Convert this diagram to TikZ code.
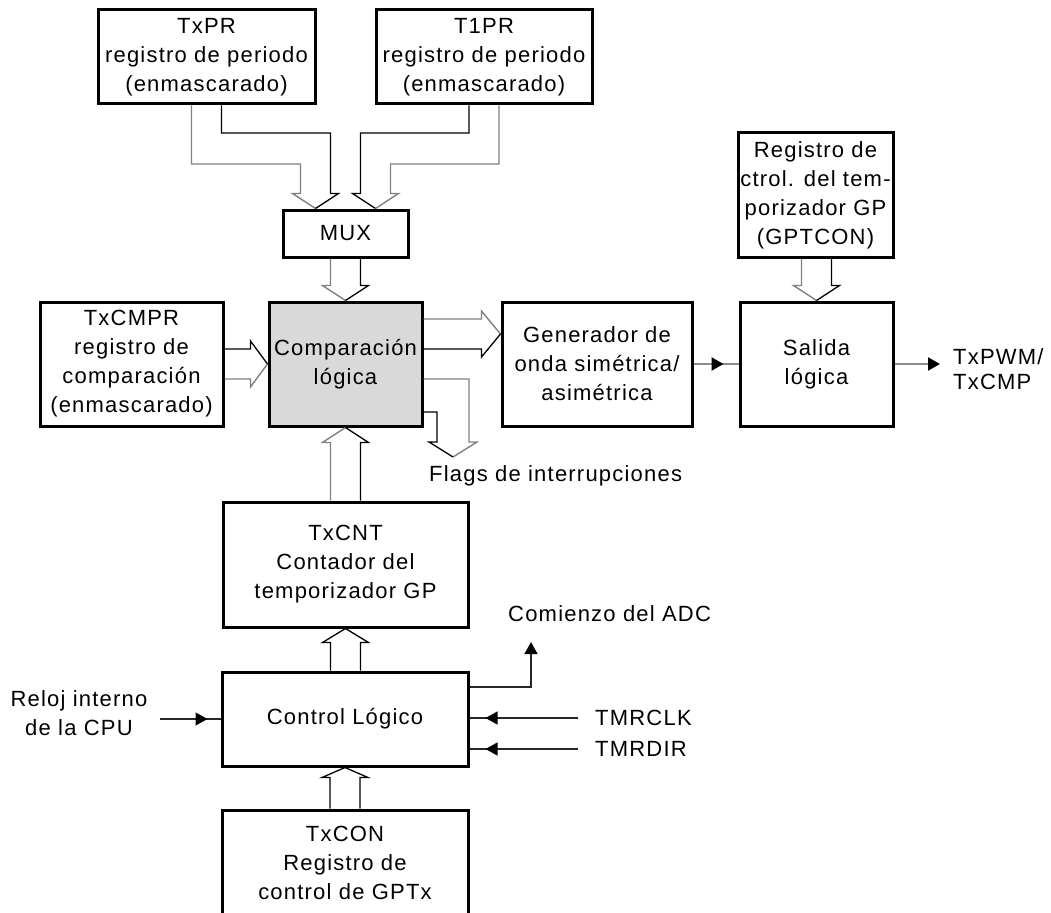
\documentclass[tikz,border=0pt]{standalone}
\usepackage{fontspec}
\setmainfont[LetterSpace=5.5]{Liberation Sans}
\usetikzlibrary{calc,arrows.meta}

% vertical bus: #1 source anchor, #2 tip, #3 offset of head base from tip, #4/#5 styles of left/right line
\newcommand{\busv}[5]{%
  \draw[#4] let \p1=(#1), \p2=(#2) in
    ({\x2-15pt},\y1) -- ({\x2-15pt},{\y2+(#3)}) -- ({\x2-23pt},{\y2+(#3)}) -- (\p2);
  \draw[#5] let \p1=(#1), \p2=(#2) in
    ({\x2+15pt},\y1) -- ({\x2+15pt},{\y2+(#3)}) -- ({\x2+23pt},{\y2+(#3)}) -- (\p2);}
% horizontal bus to the right: #1 source anchor, #2 tip, #3 head length, #4/#5 styles of upper/lower line
\newcommand{\bush}[5]{%
  \draw[#4] let \p1=(#1), \p2=(#2) in
    (\x1,{\y2+15pt}) -- ({\x2-#3},{\y2+15pt}) -- ({\x2-#3},{\y2+23pt}) -- (\p2);
  \draw[#5] let \p1=(#1), \p2=(#2) in
    (\x1,{\y2-15pt}) -- ({\x2-#3},{\y2-15pt}) -- ({\x2-#3},{\y2-23pt}) -- (\p2);}

\begin{document}
\begin{tikzpicture}[x=1pt,y=1pt,
  every node/.style={font=\fontsize{22}{29}\selectfont, text=black},
  blk/.style={draw=black, line width=3pt, inner sep=0pt, align=center},
  busg/.style={draw=black!50, line width=1.4pt, line join=miter},
  busk/.style={draw=black, line width=1.3pt, line join=miter},
  sig/.style={draw=black!85, line width=1.3pt},
  sigg/.style={draw=black!45, line width=2.2pt},
  tip/.style={-{Triangle[length=12pt,width=13pt,color=black]}},
  lbl/.style={anchor=west, inner sep=0pt, align=left}]

\fill[white] (0,0) rectangle (1051,-912);
\useasboundingbox (0,0) rectangle (1051,-912);

% registers and logic blocks
\node[blk, minimum width=217pt, minimum height=94pt] (txpr) at (206.5,-57)
  {TxPR\\registro de periodo\\(enmascarado)};
\node[blk, minimum width=216pt, minimum height=94pt] (t1pr) at (484,-57)
  {T1PR\\registro de periodo\\(enmascarado)};
\node[blk, minimum width=125pt, minimum height=47pt] (mux) at (345.5,-233.5) {MUX};
\node[blk, minimum width=183pt, minimum height=124pt] (txcmpr) at (131.5,-364)
  {TxCMPR\\registro de\\comparación\\(enmascarado)};
\node[blk, fill=black!15, minimum width=153pt, minimum height=124pt] (cmp) at (345.5,-364)
  {Comparación\\lógica};
\node[blk, minimum width=190pt, minimum height=124pt] (gen) at (597,-364)
  {Generador de\\onda simétrica/\\asimétrica};
\node[blk, minimum width=153pt, minimum height=124pt] (sal) at (816.5,-364)
  {Salida\\lógica};
\node[blk, minimum width=155pt, minimum height=124pt] (gpt) at (815.5,-195)
  {Registro de\\ctrol. del tem-\\porizador GP\\(GPTCON)};
\node[blk, minimum width=245pt, minimum height=125pt] (txcnt) at (345.5,-564.5)
  {TxCNT\\Contador del\\temporizador GP};
\node[blk, minimum width=246pt, minimum height=94pt] (ctl) at (345,-719)
  {Control Lógico};
\node[blk, minimum width=246pt, minimum height=105pt] (txcon) at (345,-862.5)
  {TxCON\\Registro de\\control de GPTx};

% free labels
\node[inner sep=0pt, align=center] (reloj) at (79,-713) {Reloj interno\\de la CPU};
\node[lbl] (tmrclk) at (595,-718) {TMRCLK};
\node[lbl] (tmrdir) at (595,-749) {TMRDIR};
\node[lbl] (adclbl) at (508,-614) {Comienzo del ADC};
\node[lbl] (flags) at (429,-476) {Flags de interrupciones};
\node[lbl, font=\fontsize{22}{25}\selectfont] (txpwm) at (953,-369) {TxPWM/\\TxCMP};

% connector end points
\coordinate (muxa) at ($(mux.north)+(-30,0)$);
\coordinate (muxb) at ($(mux.north)+(30,0)$);
\coordinate (flg) at (453,-457);
\coordinate (adc) at (531,-642);
\coordinate (rin) at (160,-719);
\coordinate (pwm) at (940,-364);

% period registers into the multiplexer
\draw[busg] let \p1=(txpr.south), \p2=(muxa) in
  ({\x1-15pt},\y1) -- ({\x1-15pt},-164pt) -- ({\x2-15pt},-164pt) -- ({\x2-15pt},{\y2+15pt})
  -- ({\x2-23pt},{\y2+15pt}) -- (\p2);
\draw[busk] let \p1=(txpr.south), \p2=(muxa) in
  ({\x1+15pt},\y1) -- ({\x1+15pt},-133pt) -- ({\x2+15pt},-133pt) -- ({\x2+15pt},{\y2+15pt})
  -- ({\x2+23pt},{\y2+15pt}) -- (\p2);
\draw[busk] let \p1=(t1pr.south), \p2=(muxb) in
  ({\x1-15pt},\y1) -- ({\x1-15pt},-133pt) -- ({\x2-15pt},-133pt) -- ({\x2-15pt},{\y2+15pt})
  -- ({\x2-23pt},{\y2+15pt}) -- (\p2);
\draw[busg] let \p1=(t1pr.south), \p2=(muxb) in
  ({\x1+15pt},\y1) -- ({\x1+15pt},-164pt) -- ({\x2+15pt},-164pt) -- ({\x2+15pt},{\y2+15pt})
  -- ({\x2+23pt},{\y2+15pt}) -- (\p2);

% data buses between blocks
\busv{mux.south}{cmp.north}{15pt}{busg}{busk}
\busv{gpt.south}{sal.north}{15pt}{busg}{busk}
\busv{txcnt.north}{cmp.south}{-15pt}{busg}{busk}
\busv{ctl.north}{txcnt.south}{-14pt}{busk}{busk}
\busv{txcon.north}{ctl.south}{-10pt}{busk}{busk}
\bush{txcmpr.east}{cmp.west}{17pt}{busk}{busg}
\bush{cmp.east}{$(gen.west)+(0,30)$}{19pt}{busg}{busk}

% interrupt flags
\draw[busg] let \p1=(cmp.east), \p2=(flg) in
  (\x1,{\y1-15pt}) -- ({\x2+16pt},{\y1-15pt}) -- ({\x2+16pt},{\y2+15pt})
  -- ({\x2+24pt},{\y2+15pt}) -- (\p2);
\draw[busk] let \p1=(cmp.east), \p2=(flg) in
  (\x1,{\y1-48pt}) -- ({\x2-16pt},{\y1-48pt}) -- ({\x2-16pt},{\y2+15pt})
  -- ({\x2-24pt},{\y2+15pt}) -- (\p2);

% single signals
\draw[sigg] (gen.east) -- (sal.west);
\draw[sigg, tip] (gen.east) -- ($(sal.west)+(-15,0)$);
\draw[sigg, tip] (sal.east) -- (pwm);
\draw[sig] (rin) -- (ctl.west);
\draw[sig, tip] (rin) -- ($(ctl.west)+(-13,0)$);
\draw[sig] ($(tmrclk.west)+(-17,0)$) -- (ctl.east |- tmrclk.west);
\draw[sig, tip] ($(tmrclk.west)+(-17,0)$) -- ($(ctl.east |- tmrclk.west)+(16,0)$);
\draw[sig] ($(tmrdir.west)+(-17,0)$) -- (ctl.east |- tmrdir.west);
\draw[sig, tip] ($(tmrdir.west)+(-17,0)$) -- ($(ctl.east |- tmrdir.west)+(16,0)$);
\draw[sig, tip] ($(ctl.east)+(0,32)$) -| (adc);
\end{tikzpicture}
\end{document}
